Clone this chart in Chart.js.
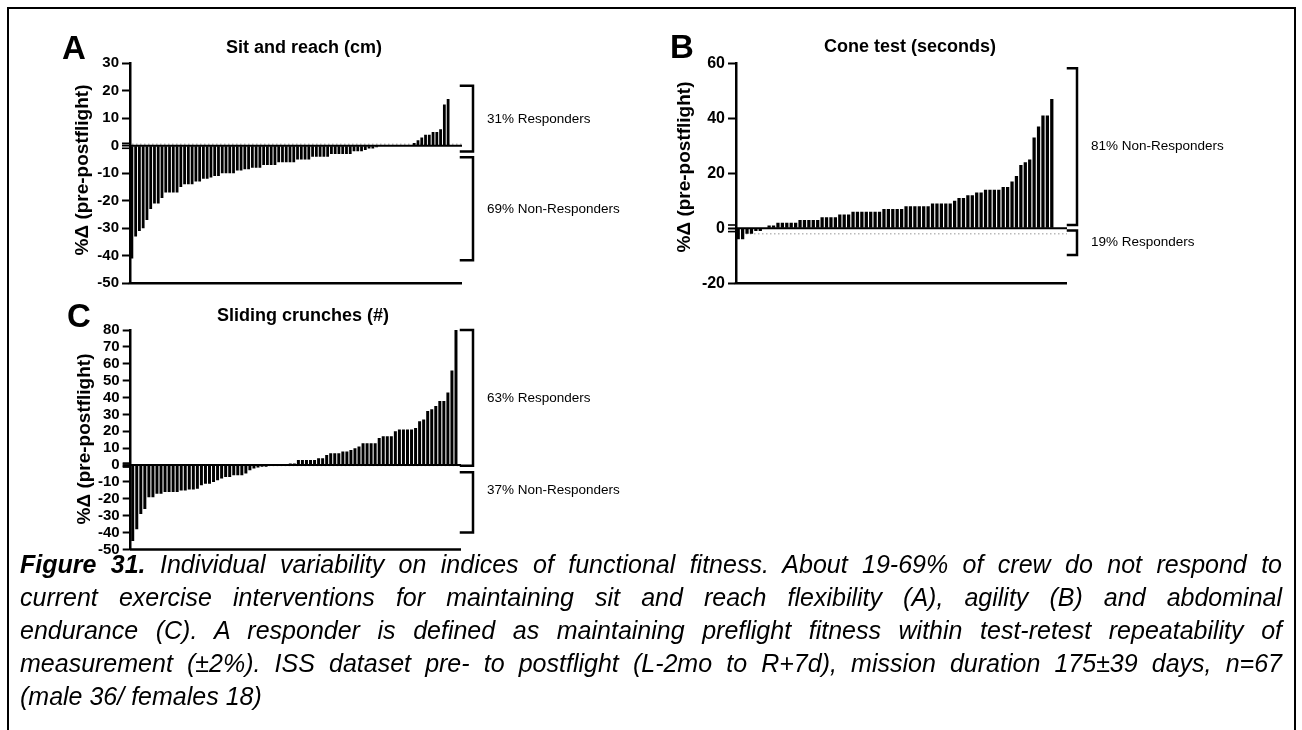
<!DOCTYPE html>
<html>
<head>
<meta charset="utf-8">
<script src="https://cdn.jsdelivr.net/npm/chart.js@4.4.1/dist/chart.umd.min.js"></script>
<style>
html, body { margin: 0; padding: 0; background: #fff; }
body { width: 1302px; height: 730px; position: relative; overflow: hidden; font-family: "Liberation Sans", Arial, sans-serif; }
#frame { position: absolute; left: 7px; top: 7px; width: 1289px; height: 760px; border: 2px solid #000; box-sizing: border-box; }
canvas { position: absolute; left: 0; top: 0; }
#caption { position: absolute; left: 20px; top: 548px; width: 1262px; font-style: italic; font-size: 25px; line-height: 33px; color: #000; }
#caption div { text-align: justify; text-align-last: justify; white-space: nowrap; }
#caption div.last { text-align-last: left; }
</style>
</head>
<body>
<div id="frame"></div>
<canvas id="sit" width="1302" height="730"></canvas>
<canvas id="cone" width="1302" height="730"></canvas>
<canvas id="crunch" width="1302" height="730"></canvas>
<div id="caption">
  <div><b>Figure 31.</b> Individual variability on indices of functional fitness. About 19-69% of crew do not respond to</div>
  <div>current exercise interventions for maintaining sit and reach flexibility (A), agility (B) and abdominal</div>
  <div>endurance (C). A responder is defined as maintaining preflight fitness within test-retest repeatability of</div>
  <div>measurement (±2%). ISS dataset pre- to postflight (L-2mo to R+7d), mission duration 175±39 days, n=67</div>
  <div class="last">(male 36/ females 18)</div>
</div>
<script>
// A - sit and reach, % change per crew member (sorted)
var sitValues = [-41, -33, -31, -30, -27, -23, -21, -21, -19, -17, -17, -17, -17,
  -15, -14, -14, -14, -13, -13, -12, -12, -11.5, -11, -11,
  -10, -10, -10, -10, -9, -9, -8.5, -8.5, -8, -8, -8,
  -7, -7, -7, -7, -6, -6, -6, -6, -6, -5, -5, -5, -5,
  -4, -4, -4, -4, -4, -3, -3, -3, -3, -3, -3, -2, -2, -2,
  -1.5, -1, -1, -0.5, 0, 0, 0, 0, 0, 0, 0, 0, 0,
  1, 2, 3, 4, 4, 5, 5, 6, 15, 17];
var sitTicks = [-50, 30, 10];          // min, max, step
var sitBracketTop = [21.8, -4.2];
var sitBracketBottom = [-2.1, -41.6];
var sitBracketLabelAt = [9.8, -23];
var sitBracketLabels = ['31% Responders', '69% Non-Responders'];
var sitThreshold = 0.6;

// B - cone test
var coneValues = [-4, -4, -2, -2, -1, -1, 0, 1, 1, 2, 2, 2, 2, 2,
  3, 3, 3, 3, 3, 4, 4, 4, 4, 5, 5, 5,
  6, 6, 6, 6, 6, 6, 6, 7, 7, 7, 7, 7, 8, 8, 8, 8, 8, 8,
  9, 9, 9, 9, 9, 10, 11, 11, 12, 12, 13, 13, 14, 14, 14, 14,
  15, 15, 17, 19, 23, 24, 25, 33, 37, 41, 41, 47];
var coneTicks = [-20, 60, 20];
var coneBracketTop = [58.2, -0.8];
var coneBracketBottom = [1.2, -9.7];
var coneBracketLabelAt = [29.7, -5.2];
var coneBracketLabels = ['81% Non-Responders', '19% Responders'];
var coneThreshold = -2;

// C - sliding crunches
var crunchValues = [-45, -38, -29, -26, -19, -19, -17, -17, -16, -16, -16, -16,
  -15, -15, -14.5, -14.5, -14, -12, -11, -11, -10, -9,
  -8, -7, -7, -6, -6, -6, -5, -3, -2, -1.5, -1, -1, -0.5, -0.5,
  0, 0, 0.5, 1, 1, 3, 3, 3, 3, 3, 4, 4, 6, 7, 7, 7,
  8, 8, 9, 10, 11, 13, 13, 13, 13, 16, 17, 17, 17, 20, 21, 21, 21, 21,
  22, 26, 27, 32, 33, 35, 38, 38, 43, 56, 80];
var crunchTicks = [-50, 80, 10];
var crunchBracketTop = [80, -4.3];
var crunchBracketBottom = [-0.4, -40];
var crunchBracketLabelAt = [39.5, -14.8];
var crunchBracketLabels = ['63% Responders', '37% Non-Responders'];
var crunchThreshold = -0.3;

var FONT = '"Liberation Sans", Arial, sans-serif';

function hline(ctx, x1, x2, y) { ctx.beginPath(); ctx.moveTo(x1, y); ctx.lineTo(x2, y); ctx.stroke(); }

var panelDecor = {
  id: 'panelDecor',
  beforeDatasetsDraw: function(chart, args, o) {
    var ctx = chart.ctx, a = chart.chartArea, y = chart.scales.y;
    ctx.save();
    ctx.strokeStyle = '#b9b9b9';
    ctx.lineWidth = 1.5;
    ctx.setLineDash([1.5, 2.5]);
    hline(ctx, a.left + 2, o.lineEnd, y.getPixelForValue(o.threshold));
    ctx.restore();
  },
  afterDatasetsDraw: function(chart, args, o) {
    var ctx = chart.ctx, a = chart.chartArea, y = chart.scales.y;
    var z = y.getPixelForValue(0);
    ctx.save();
    ctx.strokeStyle = '#000';
    ctx.fillStyle = '#000';
    // zero line and bottom axis
    ctx.lineWidth = 2;
    hline(ctx, a.left, o.lineEnd, z);
    ctx.lineWidth = 2.5;
    hline(ctx, a.left - 1.25, o.lineEnd, a.bottom);
    // extra marks next to zero
    ctx.lineWidth = 1.6;
    o.zeroMarks.forEach(function(d) { hline(ctx, a.left - 8, a.left, z + d); });
    // brackets
    ctx.lineWidth = 2.5;
    ctx.lineCap = 'square';
    o.top.forEach(function(t, i) {
      var y1 = y.getPixelForValue(t), y2 = y.getPixelForValue(o.bottom[i]);
      ctx.beginPath();
      ctx.moveTo(o.bracketX - o.bracketTick, y1);
      ctx.lineTo(o.bracketX, y1);
      ctx.lineTo(o.bracketX, y2);
      ctx.lineTo(o.bracketX - o.bracketTick, y2);
      ctx.stroke();
      ctx.font = '13.5px ' + FONT;
      ctx.textAlign = 'left';
      ctx.textBaseline = 'middle';
      ctx.fillText(o.labels[i], o.bracketX + 14, y.getPixelForValue(o.labelAt[i]));
    });
    // panel letter and title
    ctx.textBaseline = 'alphabetic';
    ctx.font = 'bold 33px ' + FONT;
    ctx.textAlign = 'left';
    ctx.fillText(o.letter, o.letterX, o.letterY);
    ctx.font = 'bold 18px ' + FONT;
    ctx.textAlign = 'center';
    ctx.fillText(o.title, o.titleX, o.titleY);
    // axis title
    ctx.translate(o.axisTitleX, o.axisTitleY);
    ctx.rotate(-Math.PI / 2);
    ctx.font = 'bold 19px ' + FONT;
    ctx.textBaseline = 'middle';
    ctx.fillText('%\u0394 (pre-postflight)', 0, 0);
    ctx.restore();
  }
};

function makePanel(id, values, ticks, axisLeft, pad, tickSize, decor) {
  new Chart(document.getElementById(id), {
    type: 'bar',
    data: {
      labels: values.map(function(v, i) { return i + 1; }),
      datasets: [{ data: values, backgroundColor: '#000', borderWidth: 0, barPercentage: 0.74, categoryPercentage: 1 }]
    },
    options: {
      responsive: false,
      animation: false,
      layout: { padding: pad },
      plugins: { legend: { display: false }, tooltip: { enabled: false }, panelDecor: decor },
      scales: {
        x: { display: false },
        y: {
          min: ticks[0], max: ticks[1],
          afterFit: function(s) { s.width = axisLeft; },
          ticks: { stepSize: ticks[2], autoSkip: false, color: '#000', padding: 3,
                   font: { family: FONT, weight: 'bold', size: tickSize } },
          grid: { drawOnChartArea: false, tickLength: 8, tickColor: '#000', tickWidth: 2 },
          border: { color: '#000', width: 2.5 }
        }
      }
    },
    plugins: [panelDecor]
  });
}

makePanel('sit', sitValues, sitTicks, 130, { left: 0, top: 63.3, right: 1302 - 450, bottom: 730 - 283.3 }, 15, {
  letter: 'A', letterX: 62, letterY: 59, title: 'Sit and reach (cm)', titleX: 304, titleY: 53,
  axisTitleX: 83, axisTitleY: 170, lineEnd: 462, threshold: sitThreshold, zeroMarks: [-2.5, 2.5],
  bracketX: 473, bracketTick: 12, top: sitBracketTop, bottom: sitBracketBottom,
  labelAt: sitBracketLabelAt, labels: sitBracketLabels
});

makePanel('cone', coneValues, coneTicks, 736, { left: 0, top: 63.3, right: 1302 - 1054, bottom: 730 - 283.3 }, 16, {
  letter: 'B', letterX: 670, letterY: 58, title: 'Cone test (seconds)', titleX: 910, titleY: 52,
  axisTitleX: 685, axisTitleY: 167, lineEnd: 1067, threshold: coneThreshold, zeroMarks: [-3.3, 3.3],
  bracketX: 1077, bracketTick: 9, top: coneBracketTop, bottom: coneBracketBottom,
  labelAt: coneBracketLabelAt, labels: coneBracketLabels
});

makePanel('crunch', crunchValues, crunchTicks, 130.7, { left: 0, top: 330, right: 1302 - 458, bottom: 730 - 549.5 }, 15, {
  letter: 'C', letterX: 67, letterY: 327, title: 'Sliding crunches (#)', titleX: 303, titleY: 321,
  axisTitleX: 85, axisTitleY: 439, lineEnd: 461, threshold: crunchThreshold, zeroMarks: [-2, -1, 1, 2],
  bracketX: 473, bracketTick: 12, top: crunchBracketTop, bottom: crunchBracketBottom,
  labelAt: crunchBracketLabelAt, labels: crunchBracketLabels
});
</script>
</body>
</html>
